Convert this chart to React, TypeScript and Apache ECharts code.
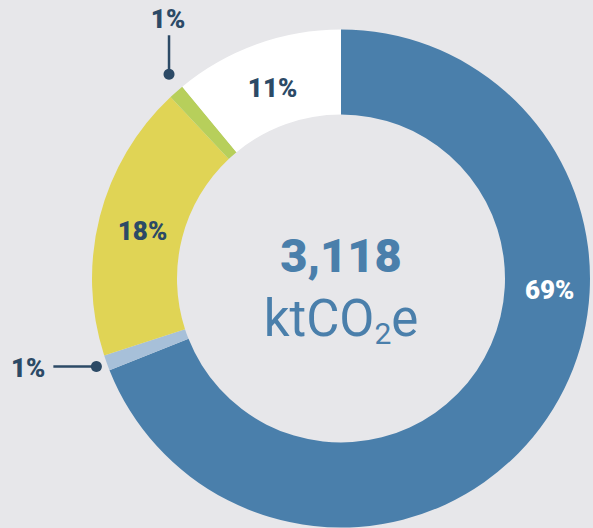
import React, { useEffect, useRef } from "react";
import * as echarts from "echarts";

const categories = ["Category A", "Category B", "Category C", "Category D", "Category E"];
const values = [69, 1, 18, 1, 11];
const labels = ["69%", "1%", "18%", "1%", "11%"];
const colors = ["#4a7fab", "#a7c0d9", "#e0d455", "#b7cf5b", "#ffffff"];
const totalValue = "3,118";
const unitMain = "ktCO";
const unitSub = "2";
const unitEnd = "e";

const W = 593;
const H = 528;
const CX = 341;
const CY = 278.5;
const R0 = 164;
const R1 = 249;
const NAVY = "#2c4a66";
const BLUE = "#4a7fab";
const BG = "#e7e7ea";
const DEG = Math.PI / 180;

function midAngle(i: number): number {
  const total = values.reduce((a, b) => a + b, 0);
  let cum = 0;
  for (let k = 0; k < i; k++) cum += values[k];
  return (90 - (360 * (cum + values[i] / 2)) / total) * DEG;
}

function polar(angle: number, r: number): [number, number] {
  return [CX + r * Math.cos(angle), CY - r * Math.sin(angle)];
}

export default function App() {
  const ref = useRef<HTMLDivElement>(null);
  useEffect(() => {
    if (!ref.current) return;
    const chart = echarts.init(ref.current, undefined, { renderer: "svg" });
    const leftDot = polar(midAngle(1), 260);
    const topDot = polar(midAngle(3) - 1.3 * DEG, 267);
    const midR = (R0 + R1) / 2;
    const labelFont = { fontFamily: "Roboto", fontWeight: 900, fontSize: 26 };
    const option: any = {
      animation: false,
      backgroundColor: BG,
      series: [
        {
          type: "pie",
          center: [CX, CY],
          radius: [R0, R1],
          startAngle: 90,
          clockwise: true,
          avoidLabelOverlap: false,
          silent: true,
          label: {
            show: true,
            position: "inside",
            ...labelFont,
            color: NAVY,
            formatter: (p: any) => labels[p.dataIndex],
          },
          labelLine: { show: false },
          data: values.map((v, i) => {
            const item: any = {
              name: categories[i],
              value: v,
              itemStyle: { color: colors[i] },
            };
            if (i === 0) item.label = { color: "#ffffff" };
            if (i === 1 || i === 3) {
              item.label = { position: "outside" };
              item.labelLine = {
                show: true,
                lineStyle: { color: NAVY, width: 2.5 },
              };
            }
            return item;
          }),
          labelLayout: (p: any) => {
            const i = p.dataIndex;
            if (i === 0) {
              const [x, y] = polar(-3.1 * DEG, 209);
              return { x, y, align: "center", verticalAlign: "middle" };
            }
            if (i === 2 || i === 4) {
              const [x, y] = polar(midAngle(i), midR);
              return { x: x + 1.5, y: y + 3.5, align: "center", verticalAlign: "middle" };
            }
            if (i === 1) {
              const [dx, dy] = leftDot;
              return {
                x: dx - 51,
                y: dy + 1,
                align: "right",
                verticalAlign: "middle",
                labelLinePoints: [
                  [dx, dy],
                  [dx - 20, dy],
                  [dx - 43, dy],
                ],
              };
            }
            if (i === 3) {
              const [dx, dy] = topDot;
              return {
                x: dx - 1,
                y: dy - 55,
                align: "center",
                verticalAlign: "middle",
                labelLinePoints: [
                  [dx, dy],
                  [dx, dy - 20],
                  [dx, dy - 39],
                ],
              };
            }
            return {};
          },
        },
      ],
      graphic: [
        ...[leftDot, topDot].map(([x, y]) => ({
          type: "circle",
          shape: { cx: x, cy: y, r: 5.5 },
          style: { fill: NAVY },
          z: 100,
        })),
        {
          type: "text",
          x: CX,
          y: 255,
          style: {
            text: totalValue,
            fill: BLUE,
            font: "900 47px Roboto",
            align: "center",
            verticalAlign: "middle",
          },
          z: 100,
        },
        {
          type: "text",
          x: CX,
          y: 318,
          style: {
            text: `{n|${unitMain}}{s|${unitSub}}{n|${unitEnd}}`,
            align: "center",
            verticalAlign: "middle",
            fill: BLUE,
            rich: {
              n: {
                fontFamily: "Roboto",
                fontSize: 51,
                fontWeight: 400,
                fill: BLUE,
                lineHeight: 60,
              },
              s: {
                fontFamily: "Roboto",
                fontSize: 30,
                fontWeight: 400,
                fill: BLUE,
                verticalAlign: "bottom",
                lineHeight: 30,
              },
            },
          },
          z: 100,
        },
      ],
    };
    chart.setOption(option);
    return () => chart.dispose();
  }, []);
  return (
    <div
      ref={ref}
      style={{ position: "absolute", left: 0, top: 0, width: W, height: H, background: BG }}
    />
  );
}
